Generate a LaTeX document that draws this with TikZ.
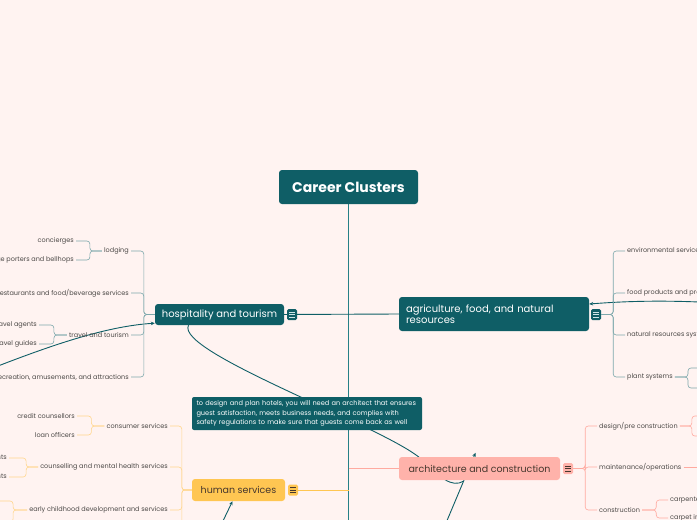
\documentclass[tikz,border=0pt]{standalone}
\usepackage{fontspec}
\setmainfont{Poppins}
\usetikzlibrary{positioning,calc,arrows.meta}
\pgfdeclarelayer{bg}
\pgfdeclarelayer{links}
\pgfsetlayers{bg,links,main}

\definecolor{paper}{RGB}{255,243,241}
\definecolor{tealdark}{RGB}{15,94,102}
\definecolor{tealtrunk}{RGB}{38,128,134}
\definecolor{tealsoft}{RGB}{125,168,172}
\definecolor{tealicon}{RGB}{205,230,232}
\definecolor{humfill}{RGB}{255,198,82}
\definecolor{humsoft}{RGB}{255,214,140}
\definecolor{archfill}{RGB}{255,178,170}
\definecolor{archsoft}{RGB}{255,170,160}
\definecolor{labelgray}{RGB}{75,72,70}
\definecolor{inkdark}{RGB}{70,55,45}

\tikzset{
  topic/.style={rounded corners=3pt, inner sep=0pt, font=\fontsize{9.5}{11}\selectfont},
  tealtopic/.style={topic, fill=tealdark, text=white, font=\fontsize{10}{11.5}\selectfont},
  lbl/.style={font=\fontsize{6.5}{8}\selectfont, text=labelgray, inner sep=2pt},
  menuicon/.style 2 args={fill=#1, rounded corners=1.5pt, minimum width=10pt, minimum height=11pt, inner sep=0pt,
    path picture={\foreach \dy in {-2.5,0,2.5}
      \draw[#2, line width=0.6pt] ([xshift=-3pt,yshift=\dy pt]path picture bounding box.center) -- ++(6pt,0pt);}},
  hbranch/.style={draw=tealsoft, line width=0.6pt, rounded corners=3pt},
  gbranch/.style={draw=humsoft, line width=0.6pt, rounded corners=3pt},
  abranch/.style={draw=archsoft, line width=0.6pt, rounded corners=3pt},
  rel/.style={draw=tealdark, line width=0.9pt},
  relarrow/.style={rel, -{Stealth[length=4pt,width=3.5pt]}}
}

\begin{document}
\begin{tikzpicture}[x=1pt, y=-1pt]
    \useasboundingbox (0,0) rectangle (697,520);
    \clip (0,0) rectangle (697,520);
    \begin{pgfonlayer}{bg}
        \fill[paper] (0,0) rectangle (697,520);
    \end{pgfonlayer}

    \node[tealtopic, minimum width=139pt, minimum height=34pt, font=\bfseries\fontsize{14}{16}\selectfont] at (348.5,187) (Career) {Career Clusters};
    \coordinate (TrunkEnd) at (348.5,524);

    \node[tealtopic, minimum width=129pt, minimum height=21pt] at (219.5,314.5) (Hospitality) {hospitality and tourism};
    \node[menuicon={tealdark}{tealicon}] at (292,314.5) (HospitalityIcon) {};
    \node[tealtopic, minimum width=190pt, minimum height=34pt, text width=176pt, align=left] at (494,314) (Agriculture) {agriculture, food, and natural\\resources};
    \node[menuicon={tealdark}{tealicon}] at (596,314.5) (AgricultureIcon) {};
    \node[topic, fill=humfill, text=inkdark, minimum width=93pt, minimum height=22pt] at (238.5,490) (Human) {human services};
    \node[menuicon={humfill}{inkdark}] at (293,490) (HumanIcon) {};
    \node[topic, fill=archfill, text=inkdark, minimum width=161pt, minimum height=23pt] at (479.5,468.5) (Architecture) {architecture and construction};
    \node[menuicon={archfill}{inkdark}] at (568,468.5) (ArchitectureIcon) {};

    \node[fill=tealdark, text=white, rounded corners=2pt, inner sep=0pt, minimum width=230pt, minimum height=33pt, text width=221pt, align=left, font=\fontsize{6.6}{9.5}\selectfont] at (307,413.5) (HotelNote) {to design and plan hotels, you will need an architect that ensures\\guest satisfaction, meets business needs, and complies with\\safety regulations to make sure that guests come back as well};

    % hospitality and tourism
    \node[lbl, anchor=east] at (131,251) (Lodging) {lodging};
    \node[lbl, anchor=east] at (131,293) (Restaurants) {restaurants and food/beverage services};
    \node[lbl, anchor=east] at (131,335) (Travel) {travel and tourism};
    \node[lbl, anchor=east] at (131,377) (Recreation) {recreation, amusements, and attractions};
    \node[lbl, anchor=east] at (76,241) (Concierges) {concierges};
    \node[lbl, anchor=east] at (76,260) (Porters) {baggage porters and bellhops};
    \node[lbl, anchor=east] at (39,325) (Agents) {travel agents};
    \node[lbl, anchor=east] at (39,344) (Guides) {travel guides};
    \foreach \kid in {Lodging,Restaurants,Travel,Recreation}
        \draw[hbranch] (Hospitality.west) -- ++(-11,0) |- (\kid.east);
    \foreach \kid in {Concierges,Porters}
        \draw[hbranch] (Lodging.west) -- ++(-12,0) |- (\kid.east);
    \foreach \kid in {Agents,Guides}
        \draw[hbranch] (Travel.west) -- ++(-13,0) |- (\kid.east);

    % agriculture, food, and natural resources
    \node[lbl, anchor=west] at (625,251) (Environmental) {environmental service systems};
    \node[lbl, anchor=west] at (625,293) (FoodProducts) {food products and processing systems};
    \node[lbl, anchor=west] at (625,335) (NaturalRes) {natural resources systems};
    \node[lbl, anchor=west] at (625,377) (PlantSys) {plant systems};
    \coordinate (PlantA) at (715,368);
    \coordinate (PlantB) at (715,388);
    \foreach \kid in {Environmental,FoodProducts,NaturalRes,PlantSys}
        \draw[hbranch] (AgricultureIcon.east) -- ++(12,0) |- (\kid.west);
    \foreach \kid in {PlantA,PlantB}
        \draw[hbranch] (PlantSys.east) -- ++(13,0) |- (\kid);

    % human services
    \node[lbl, anchor=east] at (170,426) (Consumer) {consumer services};
    \node[lbl, anchor=east] at (170,467) (Counselling) {counselling and mental health services};
    \node[lbl, anchor=east] at (170,510) (EarlyChild) {early childhood development and services};
    \coordinate (HumanNext) at (170,545);
    \node[lbl, anchor=east] at (77,416) (Credit) {credit counsellors};
    \node[lbl, anchor=east] at (77,435) (Loan) {loan officers};
    \node[lbl, anchor=east] at (9,458) (Psych) {psychologists};
    \node[lbl, anchor=east] at (9,477) (Therapists) {therapists};
    \coordinate (EarlyA) at (-15,501);
    \coordinate (EarlyB) at (-15,522);
    \foreach \kid in {Consumer,Counselling,EarlyChild}
        \draw[gbranch] (Human.west) -- ++(-10,0) |- (\kid.east);
    \draw[gbranch] (Human.west) -- ++(-10,0) |- (HumanNext);
    \foreach \kid in {Credit,Loan}
        \draw[gbranch] (Consumer.west) -- ++(-13,0) |- (\kid.east);
    \foreach \kid in {Psych,Therapists}
        \draw[gbranch] (Counselling.west) -- ++(-12,0) |- (\kid.east);
    \foreach \kid in {EarlyA,EarlyB}
        \draw[gbranch] (EarlyChild.west) -- ++(-14,0) |- (\kid);

    % architecture and construction
    \node[lbl, anchor=west] at (597,426) (Design) {design/pre construction};
    \node[lbl, anchor=west] at (597,467) (Maintenance) {maintenance/operations};
    \node[lbl, anchor=west] at (597,510) (Construction) {construction};
    \node[lbl, anchor=west] at (668,500) (Carpenters) {carpenters};
    \node[lbl, anchor=west] at (668,518) (Carpet) {carpet installers};
    \coordinate (DesignA) at (715,416);
    \coordinate (DesignB) at (715,436);
    \coordinate (MaintA) at (715,467);
    \foreach \kid in {Design,Maintenance,Construction}
        \draw[abranch] (ArchitectureIcon.east) -- ++(12,0) |- (\kid.west);
    \foreach \kid in {DesignA,DesignB}
        \draw[abranch] (Design.east) -- ++(12,0) |- (\kid);
    \draw[abranch] (Maintenance.east) -- (MaintA);
    \foreach \kid in {Carpenters,Carpet}
        \draw[abranch] (Construction.east) -- ++(14,0) |- (\kid.west);

    \begin{pgfonlayer}{links}
        \draw[tealtrunk, line width=0.8pt] (Career.south) -- (TrunkEnd);
        \draw[tealdark, line width=0.9pt] (Hospitality.east) -- (Agriculture.west);
        \draw[humfill, line width=0.8pt] (HumanIcon.east) -- (HumanIcon.east -| Career.south);
        \draw[archsoft, line width=0.8pt] (Architecture.west -| Career.south) -- (Architecture.west);

        \coordinate (LeftIn) at (-2,366);
        \coordinate (RightIn) at (699,302);
        \coordinate (BottomA) at (222,523);
        \coordinate (BottomB) at (446,523);
        \draw[relarrow] (LeftIn) .. controls (60,342) and (110,326) .. ([yshift=2pt]Hospitality.south west);
        \draw[relarrow] (RightIn) .. controls (650,300) and (615,302) .. ([yshift=10pt]Agriculture.east);
        \draw[rel] ([xshift=-31pt]Hospitality.south) .. controls (175,352) and (380,425) .. (420,458)
            .. controls (440,478) and (452,488) .. ([xshift=-16pt,yshift=-1pt]Architecture.south);
        \draw[relarrow] (BottomB) -- ([xshift=-4pt,yshift=4pt]Architecture.north);
        \draw[relarrow] (BottomA) -- ([xshift=-6pt]Human.south);
    \end{pgfonlayer}
\end{tikzpicture}
\end{document}
